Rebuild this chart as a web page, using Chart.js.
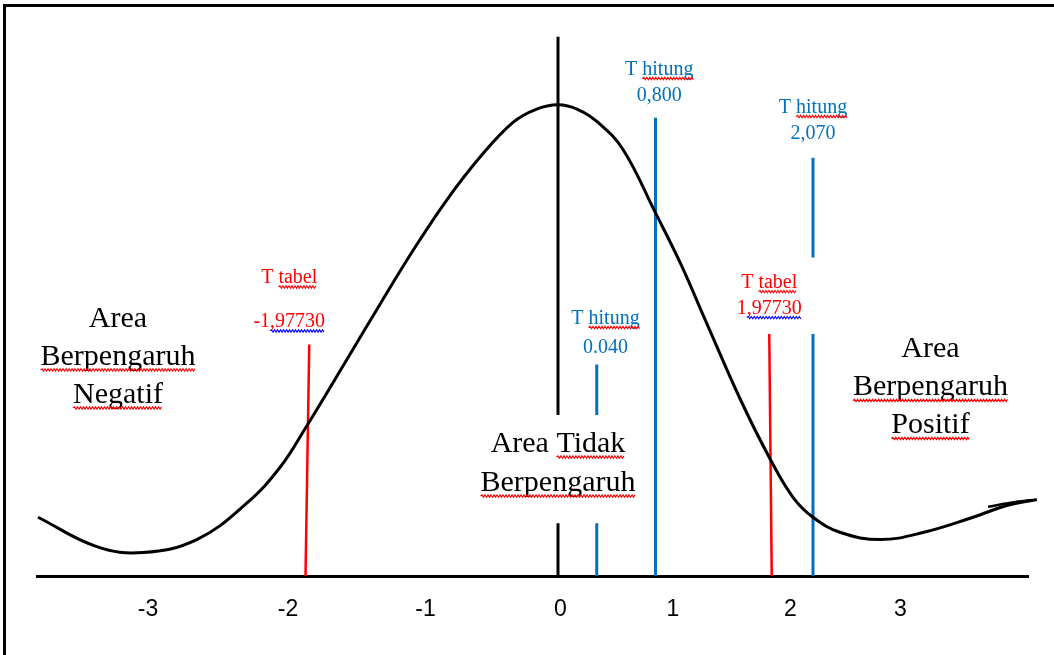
<!DOCTYPE html>
<html>
<head>
<meta charset="utf-8">
<script src="https://cdn.jsdelivr.net/npm/chart.js@4/dist/chart.umd.min.js"></script>
<style>
  html, body { margin: 0; padding: 0; background: #fff; }
  #wrap { position: relative; width: 1054px; height: 655px; overflow: hidden; }
  #frame { position: absolute; left: 3px; top: 4px; width: 1100px; height: 700px;
           border-left: 3px solid #000; border-top: 3px solid #000; }
  canvas { position: absolute; left: 0; top: 0; }
</style>
</head>
<body>
<div id="wrap">
  <canvas id="chart" width="1054" height="655"></canvas>
  <div id="frame"></div>
</div>
<script>
// curve (hand drawn t-distribution shape)
const curveX = [-4.16, -3.69, -3.32, -2.89, -2.49, -2.22, -2.02, -1.69, -1.42, -1.16, -0.89, -0.62, -0.36, -0.18, 0,
                0.16, 0.32, 0.52, 0.78, 0.98, 1.19, 1.46, 1.70, 1.88, 2.04, 2.26, 2.58, 2.92, 3.32, 3.59, 3.83];
const curveY = [0.050, 0.025, 0.020, 0.031, 0.062, 0.093, 0.126, 0.184, 0.232, 0.277, 0.320, 0.357, 0.386, 0.397, 0.401,
                0.397, 0.386, 0.363, 0.309, 0.266, 0.215, 0.150, 0.099, 0.067, 0.050, 0.037, 0.031, 0.037, 0.050, 0.060, 0.065];
// little return stroke at the right end of the curve
const loopX = [3.83, 3.66, 3.44];
const loopY = [0.065, 0.063, 0.059];

// x axis labels and where they sit on the drawn axis
const tickValues = [-3.28, -2.16, -1.06, 0.02, 0.92, 1.86, 2.74];
const tickLabels = ["-3", "-2", "-1", "0", "1", "2", "3"];

// vertical marker lines (position on the drawn axis, bottom / top of the stroke)
const markerNames   = ["0", "T tabel -1,97730", "T hitung 0.040", "T hitung 0,800", "T tabel 1,97730", "T hitung 2,070"];
const markerColors  = ["#000000", "#FF0000", "#0070C0", "#0070C0", "#FF0000", "#0070C0"];
const markerBottomX = [0.00, -2.02, 0.31, 0.78, 1.71, 2.04];
const markerTopX    = [0.00, -1.99, 0.31, 0.78, 1.69, 2.04];
const markerSegments = [
  [[0, 0.045], [0.137, 0.459]],
  [[0, 0.197]],
  [[0, 0.045], [0.137, 0.180]],
  [[0, 0.390]],
  [[0, 0.206]],
  [[0, 0.206], [0.271, 0.356]]
];

// text boxes
const notes = [
  { x: 0.81, y: 0.4264, lh: 26, size: 20, color: "#0070C0",
    lines: [{ t: "T hitung", sq: "hitung", sc: "#FF0000" }, { t: "0,800" }] },
  { x: 2.04, y: 0.394, lh: 26, size: 20, color: "#0070C0",
    lines: [{ t: "T hitung", sq: "hitung", sc: "#FF0000" }, { t: "2,070" }] },
  { x: 0.38, y: 0.2145, lh: 29, size: 20, color: "#0070C0",
    lines: [{ t: "T hitung", sq: "hitung", sc: "#FF0000" }, { t: "0.040" }] },
  { x: -2.15, y: 0.249, lh: 44, size: 20, color: "#FF0000",
    lines: [{ t: "T tabel", sq: "tabel", sc: "#FF0000" }, { t: "-1,97730", sq: ",97730", sc: "#0000FF" }] },
  { x: 1.69, y: 0.245, lh: 26, size: 20, color: "#FF0000",
    lines: [{ t: "T tabel", sq: "tabel", sc: "#FF0000" }, { t: "1,97730", sq: ",97730", sc: "#0000FF" }] },
  { x: -3.52, y: 0.212, lh: 38, size: 30, color: "#000000",
    lines: [{ t: "Area" }, { t: "Berpengaruh", sq: "Berpengaruh", sc: "#FF0000" }, { t: "Negatif", sq: "Negatif", sc: "#FF0000" }] },
  { x: 0.00, y: 0.1055, lh: 39, size: 30, color: "#000000",
    lines: [{ t: "Area Tidak", sq: "Tidak", sc: "#FF0000" }, { t: "Berpengaruh", sq: "Berpengaruh", sc: "#FF0000" }] },
  { x: 2.98, y: 0.186, lh: 38, size: 30, color: "#000000",
    lines: [{ t: "Area" }, { t: "Berpengaruh", sq: "Berpengaruh", sc: "#FF0000" }, { t: "Positif", sq: "Positif", sc: "#FF0000" }] }
];

const SERIF = '"Liberation Serif", "Times New Roman", serif';

function markerData(i) {
  const pts = [];
  const top = markerSegments[i][markerSegments[i].length - 1][1];
  markerSegments[i].forEach((seg, k) => {
    if (k > 0) pts.push({ x: markerBottomX[i], y: null });
    seg.forEach(yv => {
      const xv = markerBottomX[i] + (markerTopX[i] - markerBottomX[i]) * yv / top;
      pts.push({ x: xv, y: yv });
    });
  });
  return pts;
}

const datasets = [{
  label: "kurva",
  data: curveX.map((v, i) => ({ x: v, y: curveY[i] })),
  showLine: true,
  borderColor: "#000",
  borderWidth: 3,
  pointRadius: 0,
  tension: 0.4,
  clip: false
}, {
  label: "ujung",
  data: loopX.map((v, i) => ({ x: v, y: loopY[i] })),
  showLine: true,
  borderColor: "#000",
  borderWidth: 2.5,
  pointRadius: 0,
  tension: 0.3,
  clip: false
}];

markerNames.forEach((name, i) => {
  datasets.push({
    label: name,
    data: markerData(i),
    showLine: true,
    spanGaps: false,
    borderColor: markerColors[i],
    borderWidth: markerColors[i] === "#FF0000" ? 2.5 : 3,
    pointRadius: 0
  });
});

function squiggle(ctx, x0, x1, y, color) {
  ctx.save();
  ctx.strokeStyle = color;
  ctx.lineWidth = 1.1;
  ctx.beginPath();
  let up = true;
  ctx.moveTo(x0, y);
  for (let px = x0 + 1.5; px <= x1; px += 1.5) {
    ctx.lineTo(px, up ? y - 1.2 : y + 1.2);
    up = !up;
  }
  ctx.stroke();
  ctx.restore();
}

const textPlugin = {
  id: "texts",
  afterDatasetsDraw(chart) {
    const { ctx, scales: { x, y } } = chart;
    notes.forEach(n => {
      ctx.save();
      ctx.font = n.size + "px " + SERIF;
      ctx.fillStyle = n.color;
      ctx.textAlign = "center";
      ctx.textBaseline = "alphabetic";
      const cx = x.getPixelForValue(n.x);
      let by = y.getPixelForValue(n.y);
      n.lines.forEach(l => {
        ctx.fillText(l.t, cx, by);
        if (l.sq) {
          const w = ctx.measureText(l.t).width;
          const left = cx - w / 2;
          const s = left + ctx.measureText(l.t.slice(0, l.t.indexOf(l.sq))).width;
          const e = s + ctx.measureText(l.sq).width;
          squiggle(ctx, s, e, by + (n.size > 24 ? 5 : 3.5), l.sc);
        }
        by += n.lh;
      });
      ctx.restore();
    });
  }
};

new Chart(document.getElementById("chart"), {
  type: "scatter",
  data: { datasets: datasets },
  plugins: [textPlugin],
  options: {
    responsive: false,
    animation: false,
    layout: { padding: { left: 37, right: 26, top: 30, bottom: 0 } },
    plugins: { legend: { display: false }, tooltip: { enabled: false } },
    scales: {
      x: {
        type: "linear",
        min: -4.168,
        max: 3.76,
        grid: { display: false, drawTicks: false },
        border: { display: true, color: "#000", width: 3 },
        afterBuildTicks: s => { s.ticks = tickValues.map(v => ({ value: v })); },
        afterFit: s => { s.height = 79; },
        ticks: {
          autoSkip: false,
          maxRotation: 0,
          padding: 20,
          color: "#000",
          font: { family: '"Liberation Sans Narrow", "Liberation Sans", Arial, sans-serif', size: 23 },
          callback: v => tickLabels[tickValues.indexOf(v)]
        }
      },
      y: { display: false, min: 0, max: 0.4647 }
    }
  }
});
</script>
</body>
</html>
